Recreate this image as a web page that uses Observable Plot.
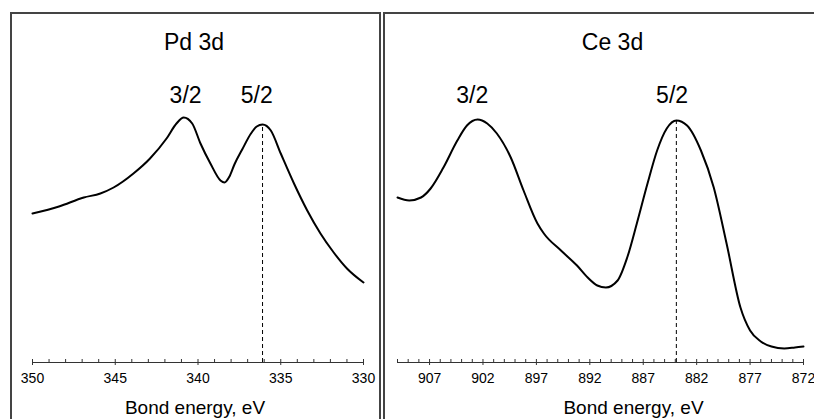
<!DOCTYPE html>
<html><head><meta charset="utf-8">
<script src="https://cdn.jsdelivr.net/npm/d3@7"></script>
<script src="https://cdn.jsdelivr.net/npm/@observablehq/plot@0.6"></script>
<style>
html,body{margin:0;padding:0;background:#fff}
body{width:814px;height:419px;overflow:hidden;position:relative;font-family:"Liberation Sans",Arial,sans-serif;color:#000}
.panel{position:absolute;top:12px;border:2px solid #444;border-bottom:none;height:420px;box-sizing:border-box}
#pd{left:10px;width:371px}
#ce{left:383px;width:460px;border-right:none}
.panel svg{display:block}
</style></head><body>
<div class="panel" id="pd"></div>
<div class="panel" id="ce"></div>
<script>
// ---- Pd 3d spectrum (binding energy, eV ; intensity, a.u.) ----
const pdEnergy = [350.0, 348.4, 346.9, 345.9, 345.1, 343.9, 342.9, 341.9, 341.3, 340.86, 340.35, 339.85, 339.25, 338.64, 338.4, 338.1, 337.8, 337.33, 336.8, 336.45, 336.1, 335.6, 335.0, 334.2, 333.4, 332.6, 331.8, 331.0, 330.0];
const pdIntensity = [149, 156, 165, 169, 175, 189, 204, 224, 239, 245, 239, 219, 199, 182, 180, 186, 198, 213, 229, 236, 238, 232, 209, 179, 152, 129, 110, 94, 80];
const pdTicks = [350, 345, 340, 335, 330];
const pdPeakLabels = ["3/2", "5/2"];
const pdPeakLabelX = [340.75, 336.45];
const pdMarker = 336.1, pdMarkerTop = 238;

// ---- Ce 3d spectrum ----
const ceEnergy = [910.0, 908.9, 907.8, 906.9, 905.7, 904.4, 903.5, 902.5, 901.6, 900.7, 899.4, 898.2, 896.9, 896.3, 894.7, 893.2, 892.2, 891.3, 890.5, 889.4, 888.5, 887.6, 886.6, 885.7, 884.8, 883.9, 882.9, 881.6, 880.4, 879.2, 877.9, 877.0, 876.0, 875.0, 873.8, 872.8, 872.0];
const ceIntensity = [165, 162, 165, 174, 195, 222, 237, 243, 239, 229, 205, 172, 139, 129, 112, 97, 85, 77, 75, 82, 105, 139, 179, 212, 234, 242, 237, 212, 175, 119, 55, 32, 21, 16, 14, 15, 16];
const ceTicks = [907, 902, 897, 892, 887, 882, 877, 872];
const cePeakLabels = ["3/2", "5/2"];
const cePeakLabelX = [903.0, 884.3];
const ceMarker = 883.9, ceMarkerTop = 242;

const axisTitle = "Bond energy, eV";

function panel(o) {
  const data = o.energy.map((e, i) => ({e, v: o.intensity[i]}));
  const minors = d3.range(Math.min(...o.domain), Math.max(...o.domain) + 1).filter(t => !o.ticks.includes(t));
  return Plot.plot({
    width: o.width, height: 405,
    marginLeft: o.mL, marginRight: o.mR, marginTop: 0, marginBottom: 57,
    style: {fontFamily: '"Liberation Sans", Arial, sans-serif', color: "#000", background: "transparent"},
    x: {domain: o.domain, axis: null},
    y: {domain: [0, 348], axis: null},
    marks: [
      Plot.ruleY([0], {stroke: "#333", strokeWidth: 1}),
      Plot.ruleX(o.ticks, {y1: 0, y2: 0, insetTop: -3, insetBottom: -3, stroke: "#333"}),
      Plot.ruleX(minors, {y1: 0, y2: 0, insetTop: -3, stroke: "#333"}),
      Plot.text(o.ticks, {x: d => d, text: d => String(d), frameAnchor: "bottom", dy: 16, fontSize: 14, lineAnchor: "middle"}),
      Plot.ruleX([o.marker], {y1: 0, y2: o.markerTop, stroke: "#000", strokeWidth: 1, strokeDasharray: "4,3"}),
      Plot.line(data, {x: "e", y: "v", curve: "monotone-x", stroke: "#000", strokeWidth: 2}),
      Plot.text([o.title], {frameAnchor: "top", dy: 28, dx: o.titleDx, fontSize: 23, lineAnchor: "middle"}),
      Plot.text(o.labels, {x: (d, i) => o.labelX[i], frameAnchor: "top", dy: 81, fontSize: 23, lineAnchor: "middle"}),
      Plot.text([axisTitle], {frameAnchor: "bottom", dy: 45, dx: o.axisDx, fontSize: 19, lineAnchor: "middle"})
    ]
  });
}

document.getElementById("pd").append(panel({
  energy: pdEnergy, intensity: pdIntensity, domain: [350, 330], ticks: pdTicks,
  labels: pdPeakLabels, labelX: pdPeakLabelX, marker: pdMarker, markerTop: pdMarkerTop,
  title: "Pd 3d", titleDx: -4, axisDx: -3, width: 367, mL: 20, mR: 16
}));
document.getElementById("ce").append(panel({
  energy: ceEnergy, intensity: ceIntensity, domain: [910, 872], ticks: ceTicks,
  labels: cePeakLabels, labelX: cePeakLabelX, marker: ceMarker, markerTop: ceMarkerTop,
  title: "Ce 3d", titleDx: 12, axisDx: 33, width: 429, mL: 12, mR: 11
}));
</script>
</body></html>
